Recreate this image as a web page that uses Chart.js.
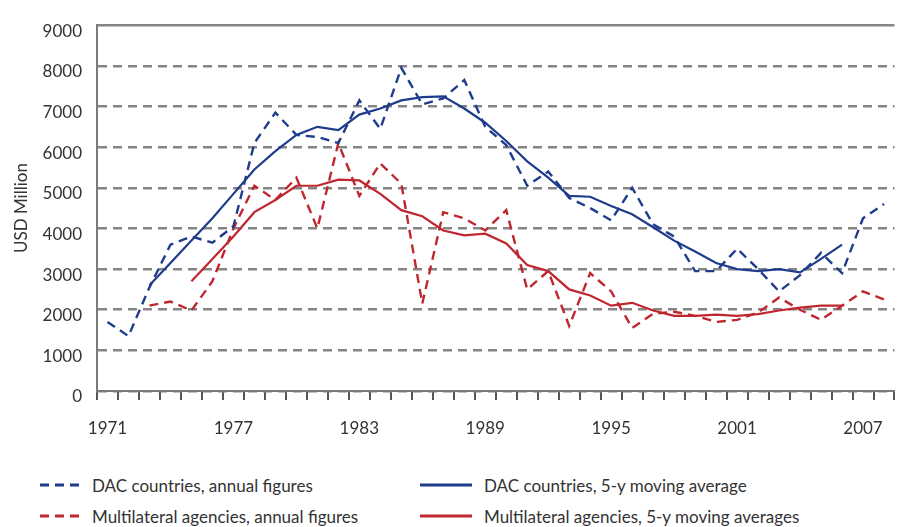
<!DOCTYPE html>
<html><head><meta charset="utf-8">
<script src="https://cdn.jsdelivr.net/npm/chart.js@4.4.1/dist/chart.umd.min.js"></script>
<style>
html,body{margin:0;padding:0;background:#fff;overflow:hidden;width:898px;height:527px;}
#wrap{position:relative;width:898px;height:527px;overflow:hidden;}
#c{position:absolute;left:0;top:0;}
.leg{position:absolute;font-family:Lato,sans-serif;font-size:17px;color:#333;display:flex;align-items:center;white-space:nowrap;height:20px;}
.leg svg{margin-right:12px;}
</style></head>
<body><div id="wrap"><canvas id="c" width="902" height="450" style="width:902px;height:450px"></canvas><div id="legend"></div></div>
<script>
const years = ['1971','1972','1973','1974','1975','1976','1977','1978','1979','1980','1981','1982','1983','1984','1985','1986','1987','1988','1989','1990','1991','1992','1993','1994','1995','1996','1997','1998','1999','2000','2001','2002','2003','2004','2005','2006','2007','2008'];
const tickLabels = ['1971','1977','1983','1989','1995','2001','2007'];
const dacAnnual = [1700,1350,2550,3600,3800,3650,4050,6100,6850,6300,6250,6100,7150,6450,7950,7050,7200,7650,6500,6050,5050,5400,4750,4500,4200,5000,4100,3800,2950,2950,3500,3000,2450,2850,3400,2900,4250,4600];
const dacMA = [null,null,2600,3150,3700,4250,4850,5450,5900,6300,6500,6420,6800,6950,7150,7230,7250,6950,6600,6150,5650,5250,4800,4780,4550,4350,4030,3700,3430,3150,3000,2950,3000,2920,3250,3600,null,null];
const multiAnnual = [null,null,2100,2200,1980,2700,4000,5050,4700,5250,4000,6100,4800,5600,5100,2150,4400,4250,3950,4450,2500,2950,1600,2900,2450,1550,1900,1950,1850,1700,1750,1930,2300,2000,1750,2100,2450,2250];
const multiMA = [null,null,null,null,2700,3250,3800,4400,4700,5050,5050,5200,5180,4850,4450,4300,3950,3830,3870,3630,3100,2950,2500,2350,2100,2170,1980,1850,1850,1880,1850,1890,1980,2050,2100,2100,null,null];
const seriesLabels = ['DAC countries, annual figures','DAC countries, 5-y moving average','Multilateral agencies, annual figures','Multilateral agencies, 5-y moving averages'];

const BLUE = '#1f3c8c', RED = '#c0262f', GRID = '#858585';
const DASH = [9,6];

const datasets = [
  {label: seriesLabels[0], data: dacAnnual, borderColor: BLUE, borderWidth: 2.4, borderDash: DASH},
  {label: seriesLabels[1], data: dacMA, borderColor: BLUE, borderWidth: 2.2, borderDash: []},
  {label: seriesLabels[2], data: multiAnnual, borderColor: RED, borderWidth: 2.4, borderDash: DASH},
  {label: seriesLabels[3], data: multiMA, borderColor: RED, borderWidth: 2.2, borderDash: []}
].map(d => Object.assign(d, {pointRadius: 0, tension: 0, fill: false, spanGaps: false, backgroundColor: d.borderColor}));

new Chart(document.getElementById('c'), {
  type: 'line',
  data: {labels: years, datasets: datasets},
  options: {
    responsive: false, animation: false,
    layout: {padding: {top: 17, left: 0, right: 0, bottom: 0}},
    plugins: {legend: {display: false}, tooltip: {enabled: false}},
    scales: {
      x: {
        offset: true,
        afterFit: s => { s.height = 59; },
        grid: {offset: true, drawOnChartArea: false, drawTicks: true, tickLength: 9, color: '#555', lineWidth: 2},
        border: {display: true, color: '#7a7a7a', width: 2},
        ticks: {autoSkip: false, maxRotation: 0, padding: 18, color: '#333', font: {family: 'Lato', size: 17},
          callback: (v, i) => tickLabels.includes(years[i]) ? years[i] : ''}
      },
      y: {
        min: 0, max: 9000,
        afterFit: s => { s.width = 97; },
        title: {display: true, text: 'USD Million', color: '#333', font: {family: 'Lato', size: 17}, padding: {top: 11, bottom: 0}},
        grid: {drawTicks: false, color: GRID, lineWidth: 2.5},
        border: {display: true, color: '#7a7a7a', width: 2, dash: ctx => (ctx.tick && ctx.tick.value === 9000) ? [] : DASH},
        ticks: {stepSize: 1000, padding: 15, labelOffset: 6, color: '#333', font: {family: 'Lato', size: 17},
          callback: v => String(v)}
      }
    }
  }
});

// HTML legend in two columns, built from the dataset definitions
const legendPos = [[40, 475], [420, 475], [40, 506], [420, 506]];
const legendEl = document.getElementById('legend');
datasets.forEach((d, i) => {
  const dashed = d.borderDash.length > 0;
  const w = dashed ? 40 : 52;
  const item = document.createElement('div');
  item.className = 'leg';
  item.style.left = legendPos[i][0] + 'px';
  item.style.top = legendPos[i][1] + 'px';
  item.innerHTML = '<svg width="' + w + '" height="8"><line x1="0" y1="4" x2="' + w + '" y2="4" stroke="' + d.borderColor + '" stroke-width="' + (dashed ? 3 : 3.2) + '"' + (dashed ? ' stroke-dasharray="9,6"' : '') + '/></svg><span>' + d.label + '</span>';
  legendEl.appendChild(item);
});
</script>
</body></html>
